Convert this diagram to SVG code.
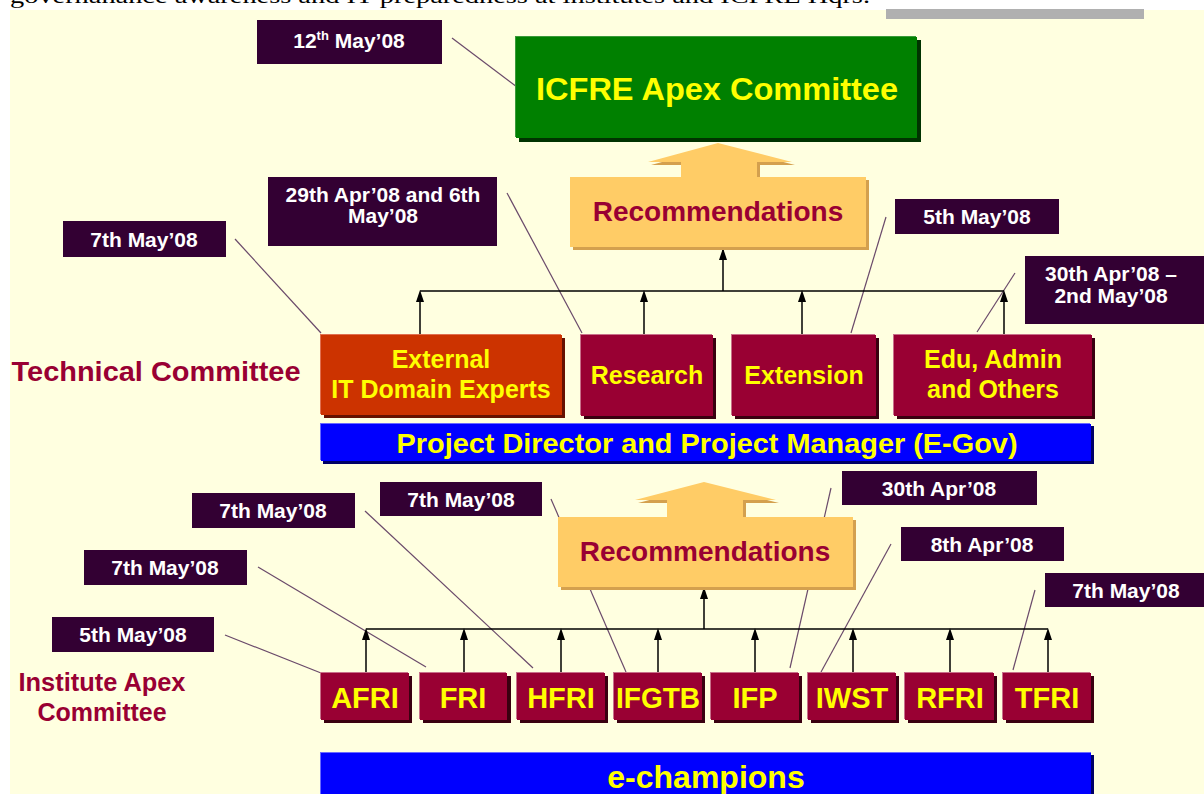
<svg xmlns="http://www.w3.org/2000/svg" width="1204" height="794" viewBox="0 0 1204 794">
<defs>
<style>
.date{fill:#330033}
.dt{font-family:"Liberation Sans",Arial,sans-serif;font-weight:bold;font-size:21px;fill:#FFFFFF;text-anchor:middle}
.lead{stroke:#6A4A6A;stroke-width:1.2;fill:none}
.bus{stroke:#000;stroke-width:1.5;fill:none}
.mar{fill:#990033}
.msh{fill:#3A0010}
.mhl{fill:#C8708A}
.yt{font-family:"Liberation Sans",Arial,sans-serif;font-weight:bold;fill:#FFFF00;text-anchor:middle}
.rt{font-family:"Liberation Sans",Arial,sans-serif;font-weight:bold;fill:#990033;text-anchor:middle}
</style>
</defs>
<rect x="0" y="0" width="1204" height="794" fill="#FFFFFF"/>
<rect x="10" y="10" width="1194" height="784" fill="#FFFFE0"/>
<text x="10" y="3" font-family="Liberation Serif,serif" font-size="22" fill="#000" textLength="860" lengthAdjust="spacingAndGlyphs">governanance awareness and IT preparedness at institutes and ICFRE Hqrs.</text>
<rect x="886" y="9" width="258" height="10" fill="#B0B0B0"/>

<g id="connectors">
<line class="lead" x1="452" y1="38" x2="521" y2="90"/>
<line class="lead" x1="235" y1="239" x2="321" y2="333"/>
<line class="lead" x1="507" y1="193" x2="582" y2="333"/>
<line class="lead" x1="886" y1="217" x2="851" y2="333"/>
<line class="lead" x1="1015" y1="273" x2="977" y2="332"/>
<line class="bus" x1="420" y1="291" x2="1004" y2="291"/>
<line class="bus" x1="420" y1="335" x2="420" y2="293"/>
<line class="bus" x1="644" y1="335" x2="644" y2="293"/>
<line class="bus" x1="802" y1="335" x2="802" y2="293"/>
<line class="bus" x1="1004" y1="335" x2="1004" y2="293"/>
<line class="bus" x1="723" y1="291" x2="723" y2="250"/>
<g fill="#000">
<path d="M420,290 l-4,12 h8 z"/><path d="M644,290 l-4,12 h8 z"/><path d="M802,290 l-4,12 h8 z"/><path d="M1004,290 l-4,12 h8 z"/><path d="M723,248 l-4,12 h8 z"/>
</g>
<line class="lead" x1="551" y1="499" x2="626" y2="672"/>
<line class="lead" x1="365" y1="511" x2="533" y2="668"/>
<line class="lead" x1="258" y1="567" x2="426" y2="667"/>
<line class="lead" x1="225" y1="635" x2="321" y2="673"/>
<line class="lead" x1="831" y1="488" x2="790" y2="668"/>
<line class="lead" x1="891" y1="544" x2="821" y2="672"/>
<line class="lead" x1="1035" y1="590" x2="1013" y2="670"/>
<line class="bus" x1="366" y1="629" x2="1048" y2="629"/>
<g class="bus">
<line x1="366" y1="673" x2="366" y2="631"/><line x1="464" y1="673" x2="464" y2="631"/><line x1="561" y1="673" x2="561" y2="631"/><line x1="658" y1="673" x2="658" y2="631"/><line x1="755" y1="673" x2="755" y2="631"/><line x1="853" y1="673" x2="853" y2="631"/><line x1="950" y1="673" x2="950" y2="631"/><line x1="1048" y1="673" x2="1048" y2="631"/><line x1="704" y1="629" x2="704" y2="590"/>
</g>
<g fill="#000">
<path d="M366,628 l-4,12 h8 z"/><path d="M464,628 l-4,12 h8 z"/><path d="M561,628 l-4,12 h8 z"/><path d="M658,628 l-4,12 h8 z"/><path d="M755,628 l-4,12 h8 z"/><path d="M853,628 l-4,12 h8 z"/><path d="M950,628 l-4,12 h8 z"/><path d="M1048,628 l-4,12 h8 z"/><path d="M704,587 l-4,12 h8 z"/>
</g>
</g>

<g id="date-12may">
<rect class="date" x="257" y="20" width="185" height="44"/>
<text class="dt" x="349" y="48">12<tspan font-size="13" dy="-8">th</tspan><tspan dy="8"> May’08</tspan></text>
</g>
<g id="icfre-apex">
<rect x="519" y="40" width="402" height="102" fill="#003300"/>
<rect x="515" y="36" width="401" height="101" fill="#3A9A3A"/>
<rect x="516" y="37" width="401" height="101" fill="#008000"/>
<text class="yt" x="717" y="100" font-size="32" textLength="362" lengthAdjust="spacingAndGlyphs">ICFRE Apex Committee</text>
</g>
<g id="rec-upper">
<path d="M651,165 L721,146 L795,165 L760,165 L760,180 L869,180 L869,250 L573,250 L573,180 L684,180 L684,165 Z" fill="#D4A04E"/>
<path d="M648,162 L718,143 L792,162 L757,162 L757,177 L866,177 L866,247 L570,247 L570,177 L681,177 L681,162 Z" fill="#FFCC66"/>
<text class="rt" x="718" y="221" font-size="28">Recommendations</text>
</g>
<g id="date-7may-a">
<rect class="date" x="63" y="221" width="163" height="36"/>
<text class="dt" x="144" y="247">7th May’08</text>
</g>
<g id="date-29apr">
<rect class="date" x="268" y="177" width="229" height="69"/>
<text class="dt" x="383" y="202">29th Apr’08 and 6th</text>
<text class="dt" x="383" y="223">May’08</text>
</g>
<g id="date-5may-a">
<rect class="date" x="895" y="199" width="164" height="35"/>
<text class="dt" x="977" y="224">5th May’08</text>
</g>
<g id="date-30apr-2may">
<rect class="date" x="1025" y="256" width="179" height="68"/>
<text class="dt" x="1111" y="281">30th Apr’08 –</text>
<text class="dt" x="1111" y="303">2nd May’08</text>
</g>
<text x="156" y="381" class="rt" font-size="27" textLength="289" lengthAdjust="spacingAndGlyphs">Technical Committee</text>

<g id="ext-experts">
<rect x="324" y="338" width="241" height="80" fill="#661100"/>
<rect x="320" y="334" width="241" height="80" fill="#E07050"/>
<rect x="321" y="335" width="241" height="80" fill="#CC3300"/>
<text class="yt" x="441" y="368" font-size="25">External</text>
<text class="yt" x="441" y="398" font-size="25">IT Domain Experts</text>
</g>
<g id="research">
<rect class="msh" x="584" y="338" width="132" height="81"/>
<rect class="mhl" x="580" y="334" width="132" height="81"/>
<rect class="mar" x="581" y="335" width="132" height="81"/>
<text class="yt" x="647" y="384" font-size="25">Research</text>
</g>
<g id="extension">
<rect class="msh" x="735" y="338" width="144" height="81"/>
<rect class="mhl" x="731" y="334" width="144" height="81"/>
<rect class="mar" x="732" y="335" width="144" height="81"/>
<text class="yt" x="804" y="384" font-size="25">Extension</text>
</g>
<g id="edu-admin">
<rect class="msh" x="897" y="338" width="198" height="81"/>
<rect class="mhl" x="893" y="334" width="198" height="81"/>
<rect class="mar" x="894" y="335" width="198" height="81"/>
<text class="yt" x="993" y="368" font-size="25">Edu, Admin</text>
<text class="yt" x="993" y="398" font-size="25">and Others</text>
</g>
<g id="project-director">
<rect x="323" y="426" width="771" height="38" fill="#000066"/>
<rect x="320" y="423" width="770" height="37" fill="#6A6AFF"/>
<rect x="321" y="424" width="770" height="37" fill="#0000FF"/>
<text class="yt" x="707" y="453" font-size="28" textLength="621" lengthAdjust="spacingAndGlyphs">Project Director and Project Manager (E-Gov)</text>
</g>

<g id="rec-lower">
<path d="M638,503 L707,485 L779,503 L746,503 L746,520 L856,520 L856,590 L561,590 L561,520 L670,520 L670,503 Z" fill="#D4A04E"/>
<path d="M635,500 L704,482 L776,500 L743,500 L743,517 L853,517 L853,587 L558,587 L558,517 L667,517 L667,500 Z" fill="#FFCC66"/>
<text class="rt" x="705" y="561" font-size="28">Recommendations</text>
</g>
<g id="date-7may-b">
<rect class="date" x="380" y="482" width="162" height="34"/>
<text class="dt" x="461" y="507">7th May’08</text>
</g>
<g id="date-7may-c">
<rect class="date" x="192" y="493" width="163" height="35"/>
<text class="dt" x="273" y="518">7th May’08</text>
</g>
<g id="date-7may-d">
<rect class="date" x="84" y="550" width="163" height="35"/>
<text class="dt" x="165" y="575">7th May’08</text>
</g>
<g id="date-5may-b">
<rect class="date" x="52" y="617" width="162" height="35"/>
<text class="dt" x="133" y="642">5th May’08</text>
</g>
<g id="date-30apr">
<rect class="date" x="842" y="471" width="195" height="34"/>
<text class="dt" x="939" y="496">30th Apr’08</text>
</g>
<g id="date-8apr">
<rect class="date" x="901" y="527" width="163" height="34"/>
<text class="dt" x="982" y="552">8th Apr’08</text>
</g>
<g id="date-7may-e">
<rect class="date" x="1045" y="573" width="159" height="34"/>
<text class="dt" x="1126" y="598">7th May’08</text>
</g>
<g class="rt">
<text x="102" y="691" font-size="25" textLength="167" lengthAdjust="spacingAndGlyphs">Institute Apex</text>
<text x="102" y="721" font-size="25">Committee</text>
</g>

<g id="afri"><rect class="msh" x="324" y="676" width="88" height="47"/><rect class="mhl" x="320" y="672" width="88" height="47"/><rect class="mar" x="321" y="673" width="88" height="47"/><text class="yt" x="365" y="708" font-size="29">AFRI</text></g>
<g id="fri"><rect class="msh" x="423" y="676" width="88" height="47"/><rect class="mhl" x="419" y="672" width="87" height="47"/><rect class="mar" x="420" y="673" width="87" height="47"/><text class="yt" x="463" y="708" font-size="29">FRI</text></g>
<g id="hfri"><rect class="msh" x="520" y="676" width="88" height="47"/><rect class="mhl" x="516" y="672" width="88" height="47"/><rect class="mar" x="517" y="673" width="88" height="47"/><text class="yt" x="561" y="708" font-size="29">HFRI</text></g>
<g id="ifgtb"><rect class="msh" x="617" y="676" width="88" height="47"/><rect class="mhl" x="613" y="672" width="88" height="47"/><rect class="mar" x="614" y="673" width="88" height="47"/><text class="yt" x="658" y="708" font-size="29" textLength="84" lengthAdjust="spacingAndGlyphs">IFGTB</text></g>
<g id="ifp"><rect class="msh" x="714" y="676" width="88" height="47"/><rect class="mhl" x="710" y="672" width="88" height="47"/><rect class="mar" x="711" y="673" width="88" height="47"/><text class="yt" x="755" y="708" font-size="29">IFP</text></g>
<g id="iwst"><rect class="msh" x="811" y="676" width="88" height="47"/><rect class="mhl" x="807" y="672" width="88" height="47"/><rect class="mar" x="808" y="673" width="88" height="47"/><text class="yt" x="852" y="708" font-size="29">IWST</text></g>
<g id="rfri"><rect class="msh" x="908" y="676" width="89" height="47"/><rect class="mhl" x="904" y="672" width="89" height="47"/><rect class="mar" x="905" y="673" width="89" height="47"/><text class="yt" x="950" y="708" font-size="29">RFRI</text></g>
<g id="tfri"><rect class="msh" x="1006" y="676" width="88" height="47"/><rect class="mhl" x="1002" y="672" width="88" height="47"/><rect class="mar" x="1003" y="673" width="88" height="47"/><text class="yt" x="1047" y="708" font-size="29">TFRI</text></g>

<g id="e-champions">
<rect x="320" y="752" width="771" height="42" fill="#6A6AFF"/>
<rect x="321" y="753" width="770" height="41" fill="#0000FF"/>
<rect x="1091" y="755" width="3" height="39" fill="#000066"/>
<text class="yt" x="706" y="788" font-size="32">e-champions</text>
</g>
</svg>
